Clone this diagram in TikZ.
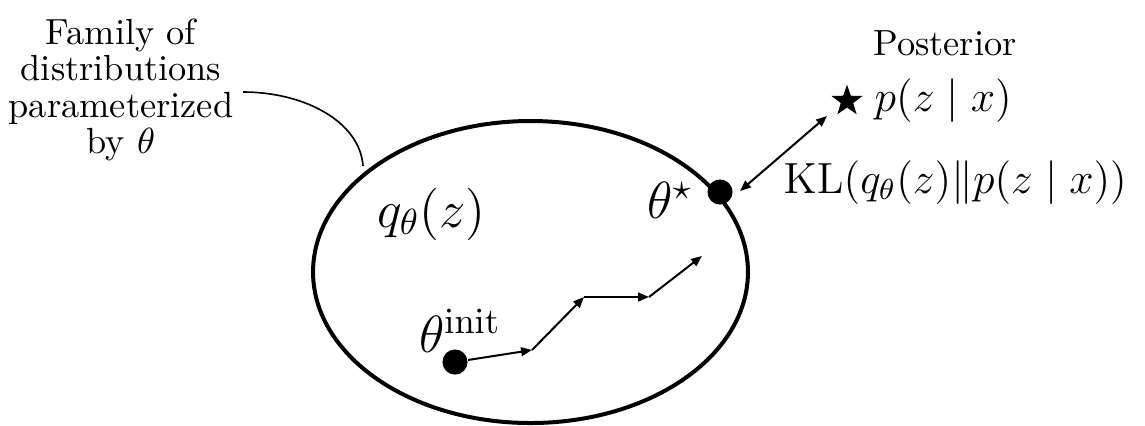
\documentclass[tikz,border=0pt]{standalone}
\usetikzlibrary{shapes.geometric,arrows.meta,calc}
\begin{document}
\begin{tikzpicture}[x=0.275pt,y=-0.275pt,
  dot/.style={circle,fill=black,minimum size=6.9pt,inner sep=0pt},
  lbl/.style={inner sep=0pt,anchor=base},
  walk/.style={line width=0.55pt,-{Triangle[length=3pt,width=2.4pt]}},
  kl/.style={line width=0.55pt,{Triangle[length=3pt,width=2.4pt]}-{Triangle[length=3pt,width=2.4pt]}},
  leader/.style={line width=0.45pt}]
\useasboundingbox (0,0) rectangle (1145,425);
% family ellipse
\node[ellipse,draw,line width=1.1pt,minimum width=119.6pt,minimum height=83.05pt,inner sep=0pt] (fam) at (530.5,272) {};
\node[align=center,anchor=north,inner sep=0pt,font=\fontsize{10}{10}\selectfont] (famtext) at (121,18) {Family of\\distributions\\parameterized\\by $\theta$};
\coordinate (lstart) at (243,92);
\coordinate (lend) at (363,166);
\draw[leader] (lstart) .. controls (305,92) and (360,122) .. (lend);
\node[lbl,font=\Large] (q) at (431.5,227) {$q_\theta(z)$};
% start and optimum
\node[dot] (init) at (455,362) {};
\node[lbl,font=\Large] (initlbl) at (460,352) {$\theta^{\mathrm{init}}$};
\node[dot] (tstar) at (720,192) {};
\node[lbl,font=\Large] (tstarlbl) at (670,218) {$\theta^{\star}$};
% optimisation walk
\coordinate (p1) at (532,350);
\coordinate (p2) at (584,297);
\coordinate (p3) at (649,297);
\coordinate (p4) at (702,256);
\draw[walk] (init) -- (p1);
\draw[walk] (p1) -- (p2);
\draw[walk] (p2) -- (p3);
\draw[walk] (p3) -- (p4);
% posterior
\node[star,star points=5,star point ratio=2.5,fill=black,minimum size=9pt,inner sep=0pt] (star) at (847,101) {};
\node[lbl] (post) at (945,55) {Posterior};
\node[lbl,anchor=base west,font=\large] (pzx) at (874,111) {$p(z \mid x)$};
\node[lbl,anchor=base west,font=\large] (kltext) at (783,193) {$\mathrm{KL}(q_\theta(z)\|p(z \mid x))$};
\draw[kl] ([shift={(20,-1)}]tstar.center) -- ([shift={(-20,15)}]star.center);
\end{tikzpicture}
\end{document}
